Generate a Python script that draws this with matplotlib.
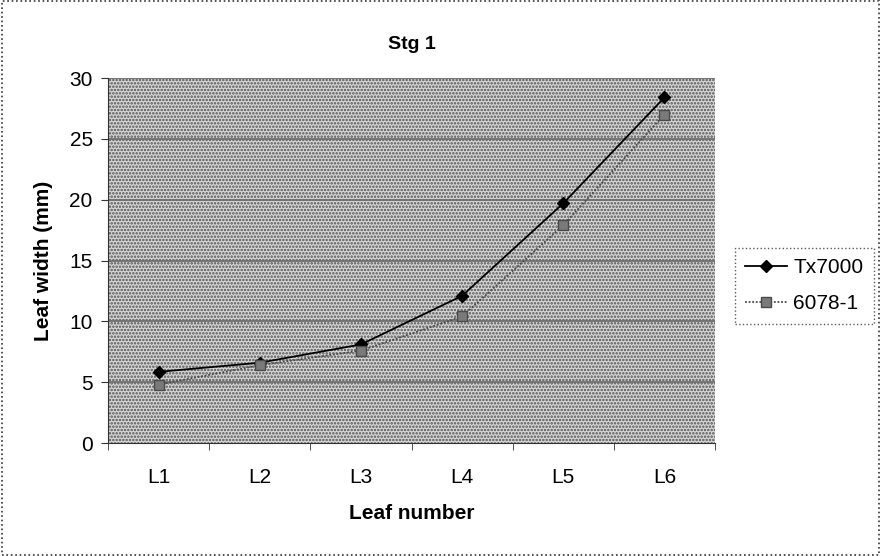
import numpy as np
import matplotlib.pyplot as plt
from matplotlib.patches import Rectangle

plt.rcParams['font.family'] = ['Liberation Sans', 'DejaVu Sans']
plt.rcParams['hatch.linewidth'] = 1.2

# 数据
leaves = ['L1', 'L2', 'L3', 'L4', 'L5', 'L6']
tx7000 = [5.85, 6.6, 8.1, 12.1, 19.7, 28.4]
line_6078 = [4.8, 6.4, 7.6, 10.4, 17.9, 27.0]
y_ticks = [0, 5, 10, 15, 20, 25, 30]

fig = plt.figure(figsize=(8.81, 5.56), dpi=100)
ax = fig.add_axes([0.1226, 0.2032, 0.6890, 0.6565])

# 点状背景
ax.set_facecolor('white')
bg = Rectangle((0, 0), 1, 1, transform=ax.transAxes, facecolor='#d6d6d6',
               edgecolor='#505050', hatch='.....', linewidth=0, zorder=0)
ax.add_patch(bg)

for y in y_ticks[1:]:
    ax.axhline(y, color='#707070', linewidth=1.3, zorder=1)

x = np.arange(len(leaves))
ax.plot(x, tx7000, color='black', linewidth=1.3, marker='D', markersize=6,
        markerfacecolor='black', markeredgecolor='black', label='Tx7000', zorder=3)
ax.plot(x, line_6078, color='#4a4a4a', linewidth=1.3, linestyle=(0, (1, 1)),
        marker='s', markersize=7, markerfacecolor='#7a7a7a', markeredgecolor='#4a4a4a',
        label='6078-1', zorder=3)

ax.set_xlim(-0.5, 5.5)
ax.set_ylim(0, 30)
ax.set_xticks(x)
ax.set_xticklabels(leaves, fontsize=15)
ax.set_xticks(np.arange(-0.5, 6, 1), minor=True)
ax.tick_params(axis='x', which='major', length=0, pad=18)
ax.tick_params(axis='x', which='minor', length=5, color='#333333')
ax.set_yticks(y_ticks)
ax.tick_params(axis='y', labelsize=15, length=5, color='#333333', pad=6)

for side in ['top', 'right']:
    ax.spines[side].set_visible(False)
ax.spines['left'].set_color('#333333')
ax.spines['bottom'].set_color('#333333')

ax.set_title('Stg 1', fontsize=14, fontweight='bold', pad=21)
ax.set_xlabel('Leaf number', fontsize=15, fontweight='bold', labelpad=12)
ax.set_ylabel('Leaf width (mm)', fontsize=15, fontweight='bold', labelpad=12)

leg = fig.legend(loc='center left', bbox_to_anchor=(0.834, 0.486), fontsize=15,
                 frameon=True, fancybox=False, handlelength=2.0, handletextpad=0.3,
                 borderpad=0.5, labelspacing=0.8, borderaxespad=0)
leg.get_frame().set_edgecolor('#333333')
leg.get_frame().set_linestyle(':')
leg.get_frame().set_linewidth(1.0)

# 外框
border = Rectangle((0.002, 0.002), 0.996, 0.996, transform=fig.transFigure,
                   fill=False, edgecolor='#333333', linestyle=':', linewidth=1.2)
fig.patches.append(border)

plt.savefig('out.png', dpi=100)
